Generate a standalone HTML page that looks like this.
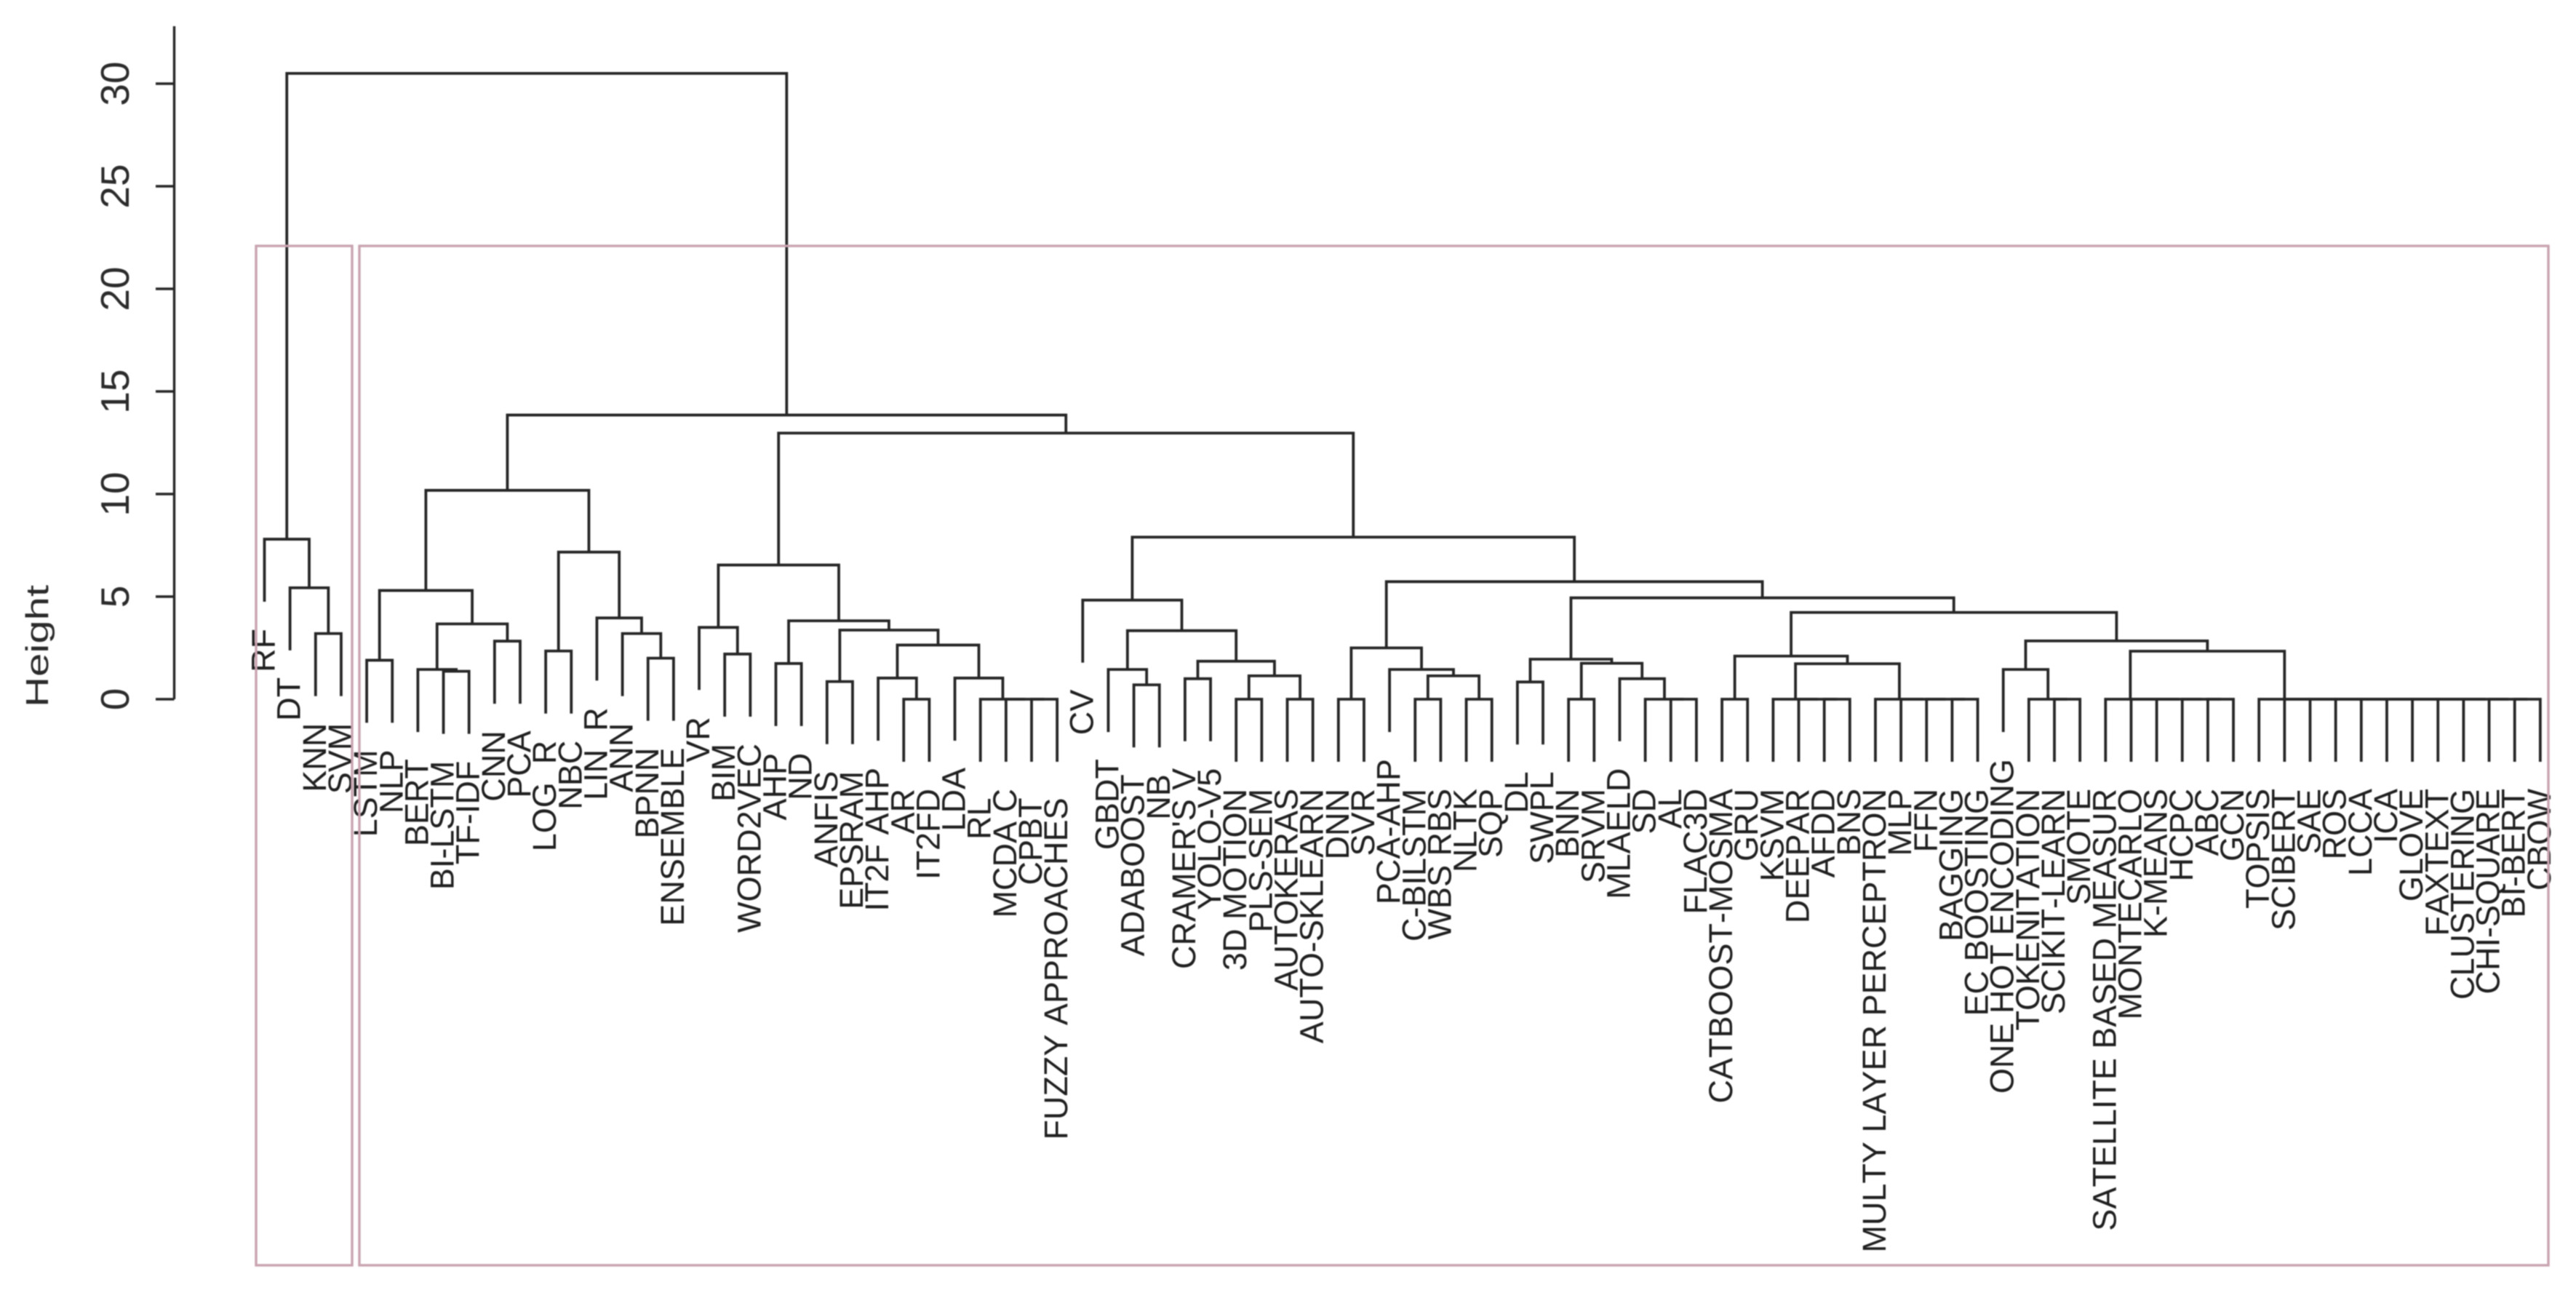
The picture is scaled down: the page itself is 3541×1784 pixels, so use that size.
<!DOCTYPE html>
<html lang="en">
<head>
<meta charset="utf-8">
<title>Dendrogram</title>
<style>
  html, body { margin: 0; padding: 0; background: #fff; }
  #chart { display: block; width: 3541px; height: 1784px; filter: blur(0.8px); font-family: "Liberation Sans", Arial, sans-serif; font-kerning: none; }
  .link { fill: none; stroke: #262626; stroke-width: 3.8; stroke-linejoin: miter; stroke-linecap: butt; }
  .axis { fill: none; stroke: #262626; stroke-width: 3.4; }
  .leaf { font-size: 45px; fill: #1f1f1f; }
  .tick { font-size: 55px; fill: #2b2b2b; }
  .cluster-box { fill: none; stroke: #c9a3b0; stroke-width: 3.4; }
</style>
</head>
<body>
<svg id="chart" xmlns="http://www.w3.org/2000/svg" width="3541" height="1784" viewBox="0 0 3541 1784">
  <rect x="0" y="0" width="3541" height="1784" fill="#fff"/>
  <g id="links"></g>
  <g id="labels"></g>
  <g id="yaxis"></g>
  <rect class="cluster-box" x="352" y="338" width="132" height="1401"/>
  <rect class="cluster-box" x="494" y="338" width="3009" height="1401"/>
  <text transform="translate(66,888) rotate(-90)" text-anchor="middle" font-size="44" fill="#2b2b2b" textLength="168" lengthAdjust="spacingAndGlyphs">Height</text>
</svg>
<script>
// Leaf labels in dendrogram order
const leafLabels = ["RF","DT","KNN","SVM","LSTM","NLP","BERT","BI-LSTM","TF-IDF","CNN","PCA","LOG\u00a0\u00a0R","NBC","LIN\u00a0\u00a0R","ANN","BPNN","ENSEMBLE","VR","BIM","WORD2VEC","AHP","ND","ANFIS","EPSRAM","IT2F AHP","AR","IT2FD","LDA","RL\u00a0","MCDA\u00a0C","CPBT\u00a0","FUZZY APPROACHES\u00a0","CV","GBDT","ADABOOST","NB","CRAMER'S V","YOLO-V5","3D MOTION","PLS-SEM","AUTOKERAS","AUTO-SKLEARN","DNN","SVR","PCA-AHP","C-BILSTM","WBS RBS","NLTK","SQP","DL","SWPL","BNN","SRVM","MLAELD","SD","AL","FLAC3D","CATBOOST-MOSMA","GRU","KSVM","DEEPAR","AFDD","BNS","MULTY LAYER PERCEPTRON","MLP","FFN","BAGGING","EC BOOSTING","ONE HOT ENCODING","TOKENITATION","SCIKIT-LEARN","SMOTE","SATELLITE BASED MEASUR","MONTECARLO","K-MEANS","HCPC","ABC","GCN","TOPSIS","SCIBERT","SAE","ROS","LCCA","ICA","GLOVE","FAXTEXT","CLUSTERING","CHI-SQUARE","BI-BERT","CBOW"];

// hclust-style merge table: negative = leaf (1-based), positive = earlier merge row (1-based)
const mergeLeft = [-3,-2,-1,-5,-8,-7,-10,6,4,-12,-16,-15,-14,10,9,-19,-18,-21,-23,-26,-25,-31,-30,-29,-28,21,19,18,17,-35,-34,-37,-39,-41,33,32,31,-33,-43,-46,-48,40,-45,39,-50,-52,-56,-55,-54,46,45,-58,-62,-61,-60,-67,-66,-65,-64,55,52,-71,-70,-69,-77,-76,-75,-74,-73,-89,-88,-87,-86,-85,-84,-83,-82,-81,-80,-79,69,64,61,51,44,38,29,15,3];
const mergeRight = [-4,1,2,-6,-9,5,-11,7,8,-13,-17,11,12,13,14,-20,16,-22,-24,-27,20,-32,22,23,24,25,26,27,28,-36,30,-38,-40,-42,34,35,36,37,-44,-47,-49,41,42,43,-51,-53,-57,47,48,49,50,-59,-63,53,54,-68,56,57,58,59,60,-72,62,63,-78,65,66,67,68,-90,70,71,72,73,74,75,76,77,78,79,80,81,82,83,84,85,86,87,88];
const mergeHeights = [3.2,5.43,7.8,1.9,1.36,1.45,2.83,3.67,5.3,2.35,2.0,3.2,3.96,7.17,10.18,2.2,3.5,1.74,0.86,0,1.03,0,0,0,1.03,2.64,3.37,3.82,6.54,0.7,1.45,1.0,0,0,1.14,1.85,3.34,4.83,0,0,0,1.14,1.45,2.5,0.84,0,0,0,1.0,1.75,1.95,0,0,0,0,0,0,0,0,1.73,2.1,0,0,1.45,0,0,0,0,0,0,0,0,0,0,0,0,0,0,0,0,2.34,2.84,4.23,4.94,5.73,7.9,12.97,13.85,30.5];
const yTicks = [0,5,10,15,20,25,30];
const yTickLabels = ["0","5","10","15","20","25","30"];

// Axis functions
const LEAF_X0 = 363.5, LEAF_DX = 35.15;
const xScale = i => LEAF_X0 + i * LEAF_DX;
const yScale = h => 961 - h * 28.2;
const HANG_PX = 86, LABEL_GAP = 37;

const SVG_NS = "http://www.w3.org/2000/svg";
const linksG = document.getElementById("links");
const labelsG = document.getElementById("labels");
const axisG = document.getElementById("yaxis");

function leafX(ref) { return xScale(-ref - 1); }

function position(ref) {
  if (ref < 0) return { x: leafX(ref), top: null, leaf: -ref - 1 };
  const row = ref - 1;
  const a = position(mergeLeft[row]);
  const b = position(mergeRight[row]);
  return { x: (a.x + b.x) / 2, top: yScale(mergeHeights[row]), leaf: null };
}

function drawLeafLabel(index, parentY) {
  const x = xScale(index);
  const top = parentY + HANG_PX + LABEL_GAP;
  const t = document.createElementNS(SVG_NS, "text");
  t.setAttribute("class", "leaf");
  t.setAttribute("text-anchor", "end");
  t.setAttribute("transform", "translate(" + (x + 14) + "," + top + ") rotate(-90)");
  t.textContent = leafLabels[index];
  
  
  labelsG.appendChild(t);
}

function drawMerge(row) {
  const y = yScale(mergeHeights[row]);
  const a = position(mergeLeft[row]);
  const b = position(mergeRight[row]);
  const yA = a.top === null ? y + HANG_PX : a.top;
  const yB = b.top === null ? y + HANG_PX : b.top;
  const p = document.createElementNS(SVG_NS, "path");
  p.setAttribute("class", "link");
  p.setAttribute("d", "M" + a.x + " " + yA + "V" + y + "H" + b.x + "V" + yB);
  
  
  linksG.appendChild(p);
  if (a.leaf !== null) drawLeafLabel(a.leaf, y);
  if (b.leaf !== null) drawLeafLabel(b.leaf, y);
}

for (let r = 0; r < mergeHeights.length; r++) drawMerge(r);

// Y axis
const axisLine = document.createElementNS(SVG_NS, "path");
axisLine.setAttribute("class", "axis");
axisLine.setAttribute("d", "M239.5 36V" + yScale(yTicks[0]));


axisG.appendChild(axisLine);

yTicks.forEach(function (v, i) {
  const tk = document.createElementNS(SVG_NS, "path");
  tk.setAttribute("class", "axis");
  tk.setAttribute("d", "M214 " + yScale(v) + "H239.5");
  
  
  axisG.appendChild(tk);
  const lb = document.createElementNS(SVG_NS, "text");
  lb.setAttribute("class", "tick");
  lb.setAttribute("text-anchor", "middle");
  lb.setAttribute("transform", "translate(177," + yScale(v) + ") rotate(-90)");
  lb.textContent = yTickLabels[i];
  
  
  axisG.appendChild(lb);
});
</script>
</body>
</html>
